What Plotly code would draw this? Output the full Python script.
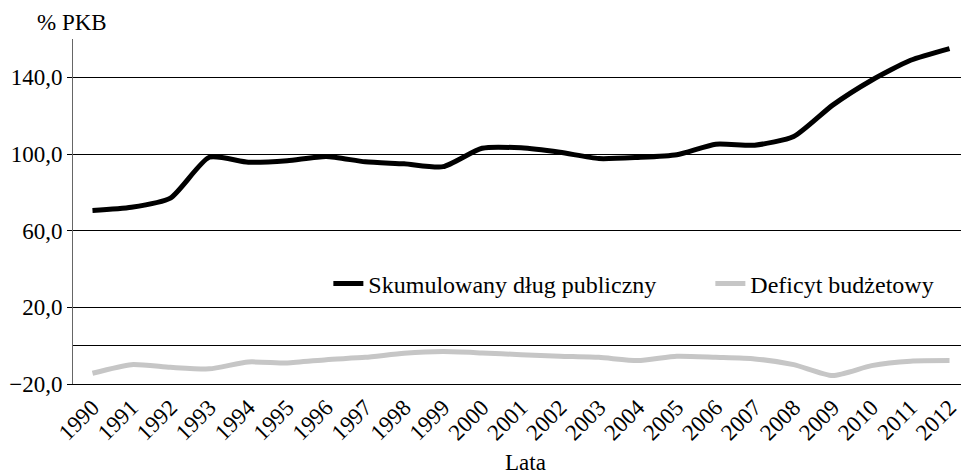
import plotly.graph_objects as go

years = list(range(1990, 2013))
debt = [70.5, 72.2, 77.0, 98.3, 95.7, 96.5, 98.7, 95.9, 94.9, 93.4, 103.0, 103.2, 100.9,
        97.6, 98.2, 99.6, 105.1, 104.6, 109.1, 125.5, 138.5, 148.9, 155.0]
deficit = [-14.4, -9.9, -11.3, -12.1, -8.5, -9.0, -7.3, -6.1, -4.0, -3.1, -3.8, -4.7, -5.5,
           -6.1, -7.8, -5.5, -6.1, -6.9, -9.9, -15.6, -10.4, -8.1, -7.8]
y_ticks = [-20, 20, 60, 100, 140]
y_ticktext = ["\u221220,0", "20,0", "60,0", "100,0", "140,0"]
boundaries = [y + 0.5 for y in years[:-1]]
series_names = ["Skumulowany dług publiczny", "Deficyt budżetowy"]

FONT = "Liberation Serif"
y_min, y_max = -20, 160

fig = go.Figure()
fig.add_trace(go.Scatter(x=years, y=debt, mode="lines", name=series_names[0],
                         line=dict(color="#000000", width=5, shape="spline", smoothing=0.6)))
fig.add_trace(go.Scatter(x=years, y=deficit, mode="lines", name=series_names[1],
                         line=dict(color="#c6c6c6", width=5, shape="spline", smoothing=0.6)))

# page body has an 8px margin: figure is sized/offset to compensate
fig.update_layout(
    width=961, height=467,
    margin=dict(l=65, r=0, t=31, b=91, autoexpand=False),
    paper_bgcolor="white", plot_bgcolor="white",
    font=dict(family=FONT, size=23, color="black"),
    showlegend=True,
    legend=dict(orientation="h", x=0.285, y=0.29, xanchor="left", yanchor="middle",
                bgcolor="rgba(0,0,0,0)", font=dict(family=FONT, size=24), itemwidth=30,
                tracegroupgap=0, entrywidth=337, entrywidthmode="pixels"),
    xaxis=dict(range=[1989.5, 2012.5], tickvals=years, ticktext=[str(y) for y in years],
               tickangle=-45, showgrid=False, zeroline=False, showline=True,
               linecolor="black", linewidth=1, ticks="", automargin=False,
               tickfont=dict(family=FONT, size=23)),
    xaxis2=dict(overlaying="x", anchor="free", position=(0 - y_min) / (y_max - y_min),
                range=[1989.5, 2012.5], tickvals=boundaries, showticklabels=False,
                ticks="outside", ticklen=5, tickcolor="black", showline=False,
                showgrid=False, zeroline=False),
    yaxis=dict(range=[y_min, y_max], tickvals=y_ticks, ticktext=y_ticktext,
               showgrid=True, gridcolor="black", gridwidth=1,
               zeroline=True, zerolinecolor="black", zerolinewidth=1,
               showline=True, linecolor="#666", linewidth=1, automargin=False,
               ticks="outside", ticklen=5, tickcolor="black",
               tickfont=dict(family=FONT, size=23)),
    annotations=[
        dict(text="% PKB", xref="paper", yref="paper", x=-0.042, y=1.0, xanchor="left",
             yanchor="bottom", showarrow=False, font=dict(family=FONT, size=23), yshift=2),
        dict(text="Lata", xref="paper", yref="paper", x=0.505, y=-0.185, xanchor="center",
             yanchor="top", showarrow=False, font=dict(family=FONT, size=23)),
    ],
)

fig.write_html("out.html")
